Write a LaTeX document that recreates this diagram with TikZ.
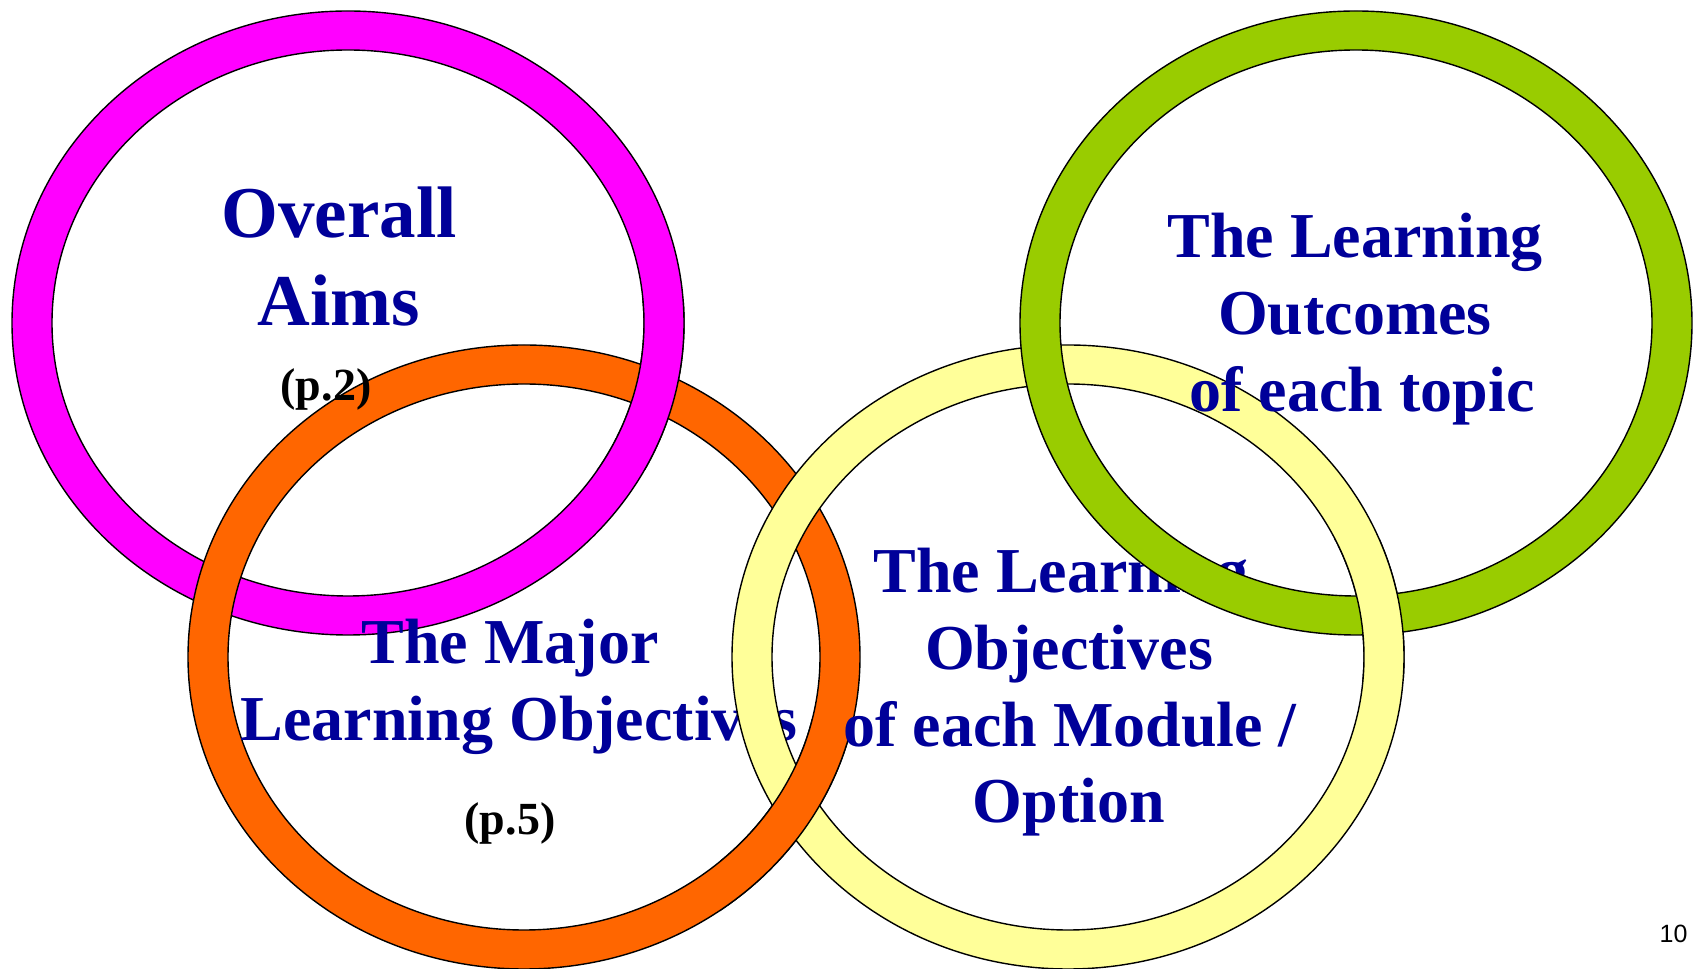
\documentclass[tikz,border=0pt]{standalone}
\usepackage{fontspec}
\setmainfont{Liberation Serif}
\newfontfamily\slidenum{Liberation Sans}

\definecolor{ringmag}{HTML}{FF00FF}
\definecolor{ringorg}{HTML}{FF6600}
\definecolor{ringyel}{HTML}{FFFF99}
\definecolor{ringgrn}{HTML}{99CC00}
\definecolor{aimblue}{HTML}{000099}

% one ring: outer ellipse minus inner ellipse
\newcommand{\olring}[2]{%
  \draw[even odd rule,fill=#2,line width=0.7pt]
    (#1) ellipse [x radius=336,y radius=312]
    (#1) ellipse [x radius=296,y radius=273];}

\begin{document}
\begin{tikzpicture}[x=0.5pt,y=0.5pt,
    bigtxt/.style={font=\bfseries\fontsize{36.5}{44}\selectfont,text=aimblue,anchor=base,inner sep=0pt},
    midtxt/.style={font=\bfseries\fontsize{32}{38}\selectfont,text=aimblue,anchor=base,inner sep=0pt},
    pagetxt/.style={font=\bfseries\fontsize{23}{28}\selectfont,anchor=base,inner sep=0pt}]
    \useasboundingbox (0,0) rectangle (1698,969);

    \coordinate (magc) at (348,646);
    \coordinate (orgc) at (524,312);
    \coordinate (yelc) at (1068,312);
    \coordinate (grnc) at (1356,646);

    % overall aims
    \olring{magc}{ringmag}
    \node[bigtxt] (aims1) at (339,731) {Overall};
    \node[bigtxt] (aims2) at (339,643) {Aims};

    % major objectives, magenta passes over it at the top right
    \olring{orgc}{ringorg}
    \node[pagetxt] (aimsp) at (326,568) {(p.2)};
    \begin{scope}
      \clip (560,499) rectangle (720,669);
      \olring{magc}{ringmag}
    \end{scope}
    \node[midtxt] (major1) at (510,305) {The Major};
    \node[midtxt] (major2) at (519,228) {Learning Objectives};
    \node[pagetxt] (majorp) at (510,134) {(p.5)};

    % module objectives, orange passes over it at the bottom
    \olring{yelc}{ringyel}
    \begin{scope}
      \clip (720,49) rectangle (880,249);
      \olring{orgc}{ringorg}
    \end{scope}
    \node[midtxt] (mod1) at (1061,376) {The Learning};
    \node[midtxt] (mod2) at (1069,299) {Objectives};
    \node[midtxt] (mod3) at (1070,222) {of each Module /};
    \node[midtxt] (mod4) at (1069,146) {Option};

    % topic outcomes, yellow passes over it at the bottom right
    \olring{grnc}{ringgrn}
    \begin{scope}
      \clip (1300,289) rectangle (1450,429);
      \olring{yelc}{ringyel}
    \end{scope}
    \node[midtxt] (out1) at (1355,711) {The Learning};
    \node[midtxt] (out2) at (1355,634) {Outcomes};
    \node[midtxt] (out3) at (1362,557) {of each topic};

    \node[font=\slidenum\fontsize{12.5}{15}\selectfont,anchor=base,inner sep=0pt] (pgno) at (1673.5,26) {10};
\end{tikzpicture}
\end{document}
